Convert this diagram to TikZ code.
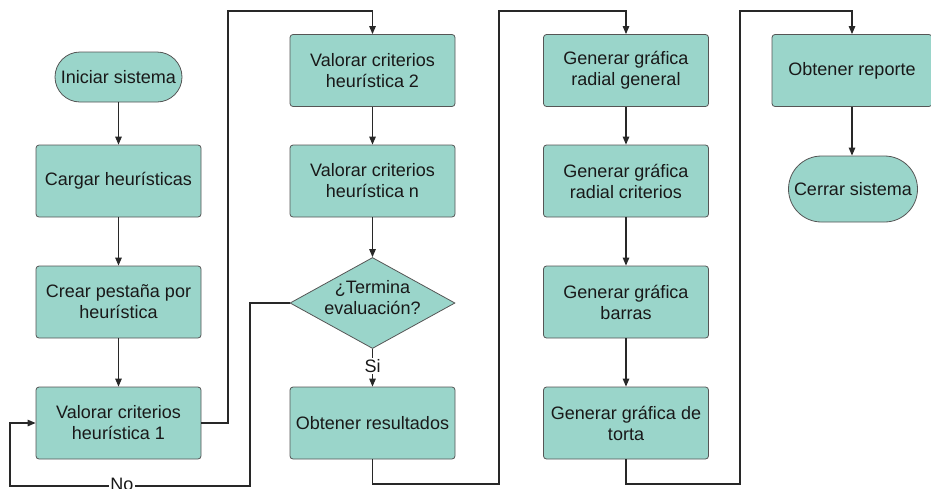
\documentclass[tikz,border=0pt]{standalone}
\usepackage{fontspec}
\setmainfont{Liberation Sans}
\usetikzlibrary{shapes.geometric,arrows.meta}
\definecolor{boxfill}{RGB}{154,213,202}
\definecolor{boxline}{RGB}{85,85,85}
\definecolor{wirecol}{RGB}{40,40,40}
\begin{document}
\begin{tikzpicture}[x=1pt,y=-1pt,
  font=\fontsize{18}{21}\selectfont,
  proc/.style={rectangle, rounded corners=3pt, draw=boxline, line width=0.8pt,
    fill=boxfill, minimum width=165pt, minimum height=72pt, align=center,
    inner sep=0pt, text=black!90},
  term/.style={proc, rounded corners=25pt, minimum width=127pt, minimum height=50pt},
  decision/.style={diamond, draw=boxline, line width=0.8pt, fill=boxfill,
    minimum width=165pt, minimum height=91pt, inner sep=0pt},
  lbl/.style={fill=white, inner sep=1pt, text=black!90},
  arr/.style={draw=wirecol, line width=1.2pt, -{Triangle[length=8pt,width=6.5pt]}},
  wire/.style={draw=wirecol, line width=1.2pt}]
\useasboundingbox (0,0) rectangle (931,488);

% column 1
\node[term] (ini) at (118.5,77) {Iniciar sistema};
\node[proc] (carg) at (118.5,181) {Cargar heurísticas};
\node[proc] (pest) at (118.5,302) {Crear pestaña por\\heurística};
\node[proc] (v1) at (118.5,423) {Valorar criterios\\heurística 1};

% column 2
\node[proc] (v2) at (372.5,70.5) {Valorar criterios\\heurística 2};
\node[proc] (vn) at (372.5,181) {Valorar criterios\\heurística n};
\node[decision] (dia) at (372.5,303) {};
\node[align=center, inner sep=0pt, text=black!90] (diatxt) at (372.5,298) {¿Termina\\evaluación?};
\node[proc] (res) at (372.5,423) {Obtener resultados};

% column 3
\node[proc] (g1) at (626,70.5) {Generar gráfica\\radial general};
\node[proc] (g2) at (626,181) {Generar gráfica\\radial criterios};
\node[proc] (g3) at (626,302) {Generar gráfica\\barras};
\node[proc] (g4) at (626,423) {Generar gráfica de\\torta};

% column 4
\node[proc, minimum width=160pt] (rep) at (852,70.5) {Obtener reporte};
\node[term, rounded corners=33pt, minimum width=129pt, minimum height=66pt] (fin) at (853,189) {Cerrar sistema};

% routing points
\coordinate (top1) at (228,11);
\coordinate (nob1) at (250,486);
\coordinate (nob2) at (10,486);
\coordinate (bot2) at (499,484);
\coordinate (top2) at (499,11);
\coordinate (bot3) at (740,484);
\coordinate (top3) at (740,11);

% straight flow
\draw[arr] (ini) -- (carg);
\draw[arr] (carg) -- (pest);
\draw[arr] (pest) -- (v1);
\draw[arr] (v2) -- (vn);
\draw[arr] (vn) -- (dia);
\draw[arr] (g1) -- (g2);
\draw[arr] (g2) -- (g3);
\draw[arr] (g3) -- (g4);
\draw[arr] (rep.south) -- (rep.south |- fin.north);

% column jumps
\draw[arr] (v1.east) -| (top1) -| (v2.north);
\draw[arr] (res.south) |- (bot2) -- (top2) -| (g1.north);
\draw[arr] (g4.south) |- (bot3) -- (top3) -| (rep.north);

% decision branches
\draw[arr] (dia.south) -- (res.north);
\node[lbl] (si) at (372.5,366) {Si};
\draw[arr] (dia.west) -| (nob1) -- (nob2) |- (v1.west);
\node[lbl] (no) at (122,484) {No};
\end{tikzpicture}
\end{document}
